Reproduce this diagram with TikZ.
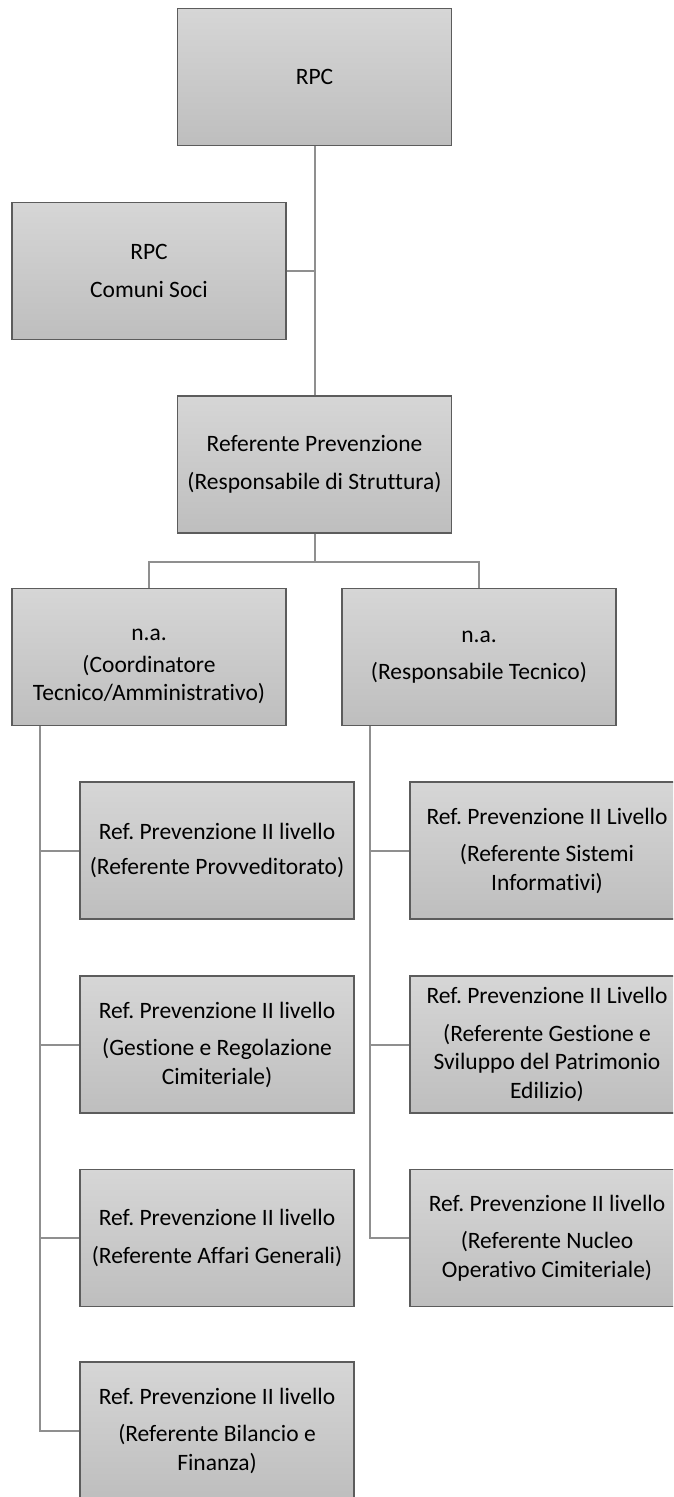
\documentclass[tikz,border=0pt]{standalone}
\usepackage{fontspec}
\setmainfont[Ligatures=NoCommon]{Carlito}
\frenchspacing
\definecolor{boxtop}{HTML}{D6D6D6}
\definecolor{boxbot}{HTML}{BEBEBE}
\definecolor{boxline}{HTML}{5C5C5C}
\definecolor{linkgray}{HTML}{8F8F8F}
\tikzset{
  unit/.style={draw=boxline, line width=1.3pt, top color=boxtop, bottom color=boxbot,
    minimum width=274pt, minimum height=137pt, inner sep=0pt, align=center,
    font=\fontsize{23.5}{28.5}\selectfont},
  link/.style={draw=linkgray, line width=2pt}
}
\begin{document}
\begin{tikzpicture}[x=1pt,y=-1pt]
    \clip (0,0) rectangle (673,1497);

    % Top levels
    \node (rpc) [unit] at (314.5,77) {RPC};
    \node (soci) [unit] at (149,271) {RPC\\[9pt]Comuni Soci};
    \node (ref) [unit] at (314.5,464.5) {Referente Prevenzione\\[9pt](Responsabile di Struttura)};

    % Coordinators
    \node (coord) [unit] at (149,657) {\rule{0pt}{31pt}n.a.\\[3pt](Coordinatore\\Tecnico/Amministrativo)};
    \node (tec) [unit] at (479,657) {n.a.\\[9pt](Responsabile Tecnico)};

    % Left column
    \node (prov) [unit] at (217,850.5) {Ref. Prevenzione II livello\\[7pt](Referente Provveditorato)};
    \node (gest) [unit] at (217,1044.5) {Ref. Prevenzione II livello\\[9pt](Gestione e Regolazione\\Cimiteriale)};
    \node (aff) [unit] at (217,1238) {Ref. Prevenzione II livello\\[9pt](Referente Affari Generali)};
    \node (bil) [unit] at (217,1430.5) {Ref. Prevenzione II livello\\[9pt](Referente Bilancio e\\Finanza)};

    % Right column
    \node (sis) [unit] at (547,850.5) {Ref. Prevenzione II Livello\\[9pt](Referente Sistemi\\Informativi)};
    \node (pat) [unit] at (547,1044.5) {Ref. Prevenzione II Livello\\[9pt](Referente Gestione e\\Sviluppo del Patrimonio\\Edilizio)};
    \node (nuc) [unit] at (547,1238) {Ref. Prevenzione II livello\\[9pt](Referente Nucleo\\Operativo Cimiteriale)};

    % Connectors
    \draw [link] (rpc.south) -- (ref.north);
    \draw [link] (soci.east) -- (soci.east -| rpc.south);
    \draw [link] (ref.south) -- ++(0,28) -| (coord.north);
    \draw [link] (ref.south) -- ++(0,28) -| (tec.north);

    \coordinate (lbus) at ([xshift=29pt]coord.south west);
    \coordinate (rbus) at ([xshift=29pt]tec.south west);
    \foreach \n in {prov,gest,aff,bil}
        \draw [link] (lbus) |- (\n.west);
    \foreach \n in {sis,pat,nuc}
        \draw [link] (rbus) |- (\n.west);
\end{tikzpicture}
\end{document}
